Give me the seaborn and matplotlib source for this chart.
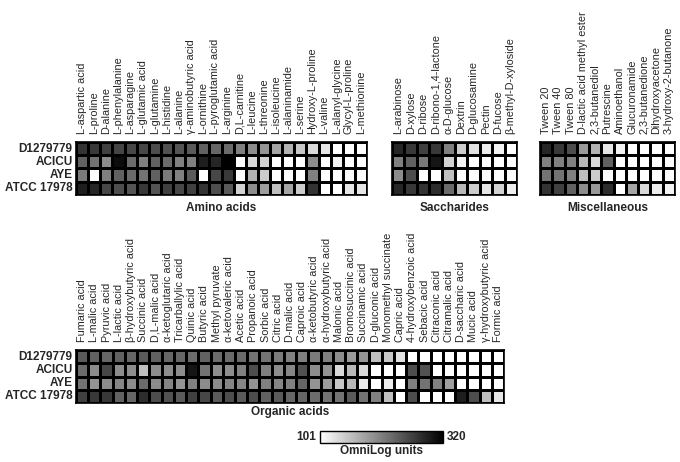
import numpy as np
import pandas as pd
import matplotlib
matplotlib.use("Agg")
import matplotlib.pyplot as plt
import seaborn as sns
from matplotlib.colors import LinearSegmentedColormap

# ─── Data (OmniLog units) ─────────────────────────────────────────────────────
strains = ["D1279779", "ACICU", "AYE", "ATCC 17978"]

amino_cols = ["L-aspartic acid", "L-proline", "D-alanine", "L-phenylalanine",
              "L-asparagine", "L-glutamic acid", "L-glutamine", "L-histidine",
              "L-alanine", "γ-aminobutyric acid", "L-ornithine",
              "L-pyroglutamic acid", "L-arginine", "D,L-carnitine", "L-leucine",
              "L-threonine", "L-isoleucine", "L-alaninamide", "L-serine",
              "Hydroxy-L-proline", "L-valine", "L-alanyl-glycine",
              "Glycyl-L-proline", "L-methionine"]
amino_vals = [
    [276, 272, 265, 261, 259, 259, 254, 250, 248, 243, 237, 232, 228, 210, 200, 193, 178, 167, 149, 134, 123, 101, 101, 101],
    [237, 221, 200, 309, 228, 210, 237, 228, 210, 210, 294, 287, 320, 101, 134, 140, 101, 101, 101, 200, 101, 112, 101, 101],
    [215, 101, 210, 237, 228, 221, 237, 215, 210, 243, 101, 259, 272, 101, 167, 145, 101, 101, 101, 210, 101, 101, 101, 101],
    [294, 287, 259, 254, 248, 272, 248, 265, 259, 265, 276, 254, 243, 140, 200, 184, 156, 178, 145, 276, 101, 101, 123, 123],
]

sacch_cols = ["L-arabinose", "D-xylose", "D-ribose", "D-ribono-1,4-lactone",
              "α-D-glucose", "Dextrin", "D-glucosamine", "Pectin", "D-fucose",
              "β-methyl-D-xyloside"]
sacch_vals = [
    [287, 272, 265, 272, 210, 145, 127, 118, 112, 101],
    [210, 237, 215, 302, 140, 112, 101, 101, 101, 101],
    [200, 254, 101, 101, 156, 101, 101, 101, 101, 101],
    [287, 272, 276, 281, 228, 162, 145, 123, 140, 116],
]

misc_cols = ["Tween 20", "Tween 40", "Tween 80", "D-lactic acid methyl ester",
             "2,3-butanediol", "Putrescine", "Aminoethanol", "Glucuronamide",
             "2,3-butanedione", "Dihydroxyacetone", "3-hydroxy-2-butanone"]
misc_vals = [
    [287, 272, 254, 189, 167, 123, 112, 101, 101, 101, 101],
    [210, 210, 210, 162, 134, 237, 101, 101, 101, 101, 101],
    [221, 221, 210, 156, 145, 101, 101, 101, 101, 101, 101],
    [276, 265, 237, 200, 189, 281, 101, 178, 134, 118, 112],
]

organic_cols = ["Fumaric acid", "L-malic acid", "Pyruvic acid", "L-lactic acid",
                "β-hydroxybutyric acid", "Succinic acid", "D,L-malic acid",
                "α-ketoglutaric acid", "Tricarballylic acid", "Quinic acid",
                "Butyric acid", "Methyl pyruvate", "α-ketovaleric acid",
                "Acetic acid", "Propanoic acid", "Sorbic acid", "Citric acid",
                "D-malic acid", "Caproic acid", "α-ketobutyric acid",
                "α-hydroxybutyric acid", "Malonic acid", "Bromosuccinic acid",
                "Succinamic acid", "D-gluconic acid", "Monomethyl succinate",
                "Capric acid", "4-hydroxybenzoic acid", "Sebacic acid",
                "Citraconic acid", "Citramalic acid", "D-saccharic acid",
                "Mucic acid", "γ-hydroxybutyric acid", "Formic acid"]
organic_vals = [
    [243, 237, 232, 237, 232, 243, 237, 232, 232, 228, 237, 228, 228, 228, 221, 221, 215, 210, 210, 215, 210,
     200, 189, 193, 156, 149, 127, 101, 101, 101, 101, 101, 101, 101, 101],
    [228, 200, 259, 200, 200, 156, 200, 200, 200, 302, 221, 200, 200, 210, 254, 210, 200, 206, 250, 200, 193,
     134, 162, 134, 101, 101, 101, 254, 250, 101, 101, 101, 101, 101, 101],
    [221, 193, 200, 206, 200, 228, 200, 206, 193, 210, 200, 200, 206, 206, 193, 210, 206, 210, 232, 193, 184,
     149, 162, 118, 101, 118, 101, 210, 221, 210, 184, 101, 101, 101, 101],
    [265, 272, 272, 237, 232, 281, 254, 250, 243, 265, 259, 243, 254, 243, 254, 237, 243, 232, 232, 228, 221,
     221, 243, 221, 210, 156, 101, 254, 101, 101, 101, 294, 254, 156, 123],
]

VMIN, VMAX = 101, 320
W, H = 680, 462
# ──────────────────────────────────────────────────────────────────────────────

sns.set_style("white")
plt.rcParams["font.family"] = ["Liberation Sans", "DejaVu Sans"]

cmap = LinearSegmentedColormap.from_list("wb", ["white", "black"])


def px_rect(x, y, w, h):
    """Pixel box (top-left origin) -> figure fraction rect."""
    return [x / W, 1 - (y + h) / H, w / W, h / H]


def draw_block(fig, rect, cols, vals, title, show_rows, title_gap):
    ax = fig.add_axes(px_rect(*rect))
    df = pd.DataFrame(vals, index=strains, columns=cols)
    sns.heatmap(df, ax=ax, cmap=cmap, vmin=VMIN, vmax=VMAX, cbar=False,
                linewidths=1, linecolor="black")
    ax.xaxis.tick_top()
    ax.set_xticks(np.arange(len(cols)) + 0.5)
    ax.set_xticklabels(cols, rotation=90, fontsize=7.8)
    if show_rows:
        ax.set_yticks(np.arange(len(strains)) + 0.5)
        ax.set_yticklabels(strains, rotation=0, fontsize=8.5, fontweight="bold")
    else:
        ax.set_yticks([])
    ax.tick_params(axis="x", length=0, pad=5.5)
    ax.tick_params(axis="y", length=0, pad=2.5)
    ax.set_xlabel(""); ax.set_ylabel("")
    for s in ax.spines.values():
        s.set_visible(True); s.set_color("black"); s.set_linewidth(1.2)
    ax.text(0.5, -title_gap / rect[3], title, transform=ax.transAxes,
            ha="center", va="top", fontsize=8.5, fontweight="bold")
    return ax


fig = plt.figure(figsize=(W / 100, H / 100), dpi=100)

ax_a = draw_block(fig, (76, 142, 291, 53), amino_cols, amino_vals, "Amino acids", True, 7)
draw_block(fig, (392, 142, 125, 53), sacch_cols, sacch_vals, "Saccharides", False, 7)
draw_block(fig, (540, 142, 135, 53), misc_cols, misc_vals, "Miscellaneous", False, 7)
draw_block(fig, (76, 350, 428, 53), organic_cols, organic_vals, "Organic acids", True, 3)

# colour bar
cax = fig.add_axes(px_rect(320, 431, 123, 12))
cb = fig.colorbar(ax_a.collections[0], cax=cax, orientation="horizontal")
cb.set_ticks([])
cb.outline.set_edgecolor("black"); cb.outline.set_linewidth(1)
cax.text(-0.03, 0.5, str(VMIN), transform=cax.transAxes, ha="right", va="center",
         fontsize=8.5, fontweight="bold")
cax.text(1.03, 0.5, str(VMAX), transform=cax.transAxes, ha="left", va="center",
         fontsize=8.5, fontweight="bold")
cax.text(0.5, -0.2, "OmniLog units", transform=cax.transAxes, ha="center", va="top",
         fontsize=8.5, fontweight="bold")

fig.savefig("out.png", dpi=100)
plt.close(fig)
